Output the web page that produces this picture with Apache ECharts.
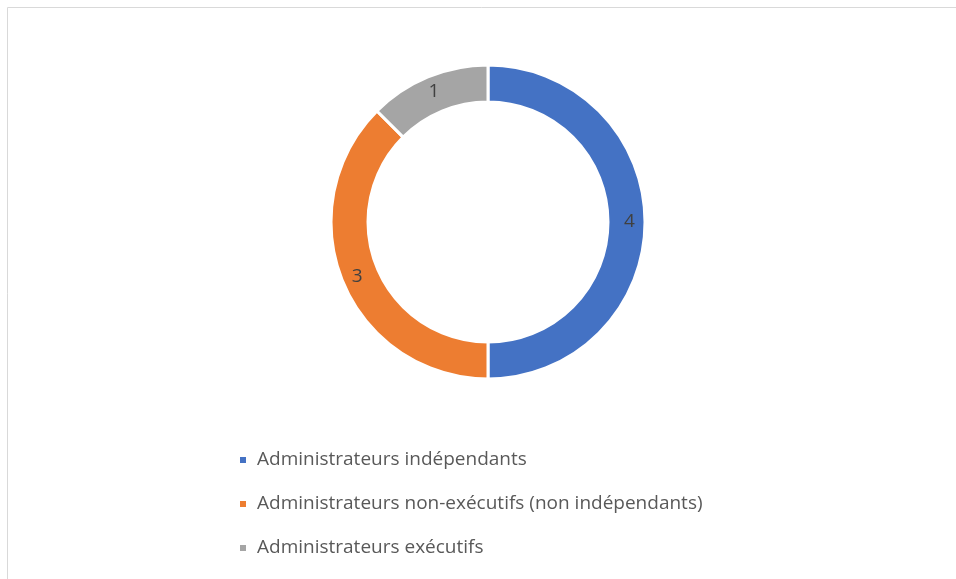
<!DOCTYPE html>
<html>
<head>
<meta charset="utf-8">
<script src="https://cdn.jsdelivr.net/npm/echarts@6/dist/echarts.min.js"></script>
<style>
html,body{margin:0;padding:0;background:#fff;}
#main{width:956px;height:579px;}
</style>
</head>
<body>
<div id="main"></div>
<script>
const categories = ['Administrateurs indépendants', 'Administrateurs non-exécutifs (non indépendants)', 'Administrateurs exécutifs'];
const values = [4, 3, 1];
const colors = ['#4472C4', '#ED7D31', '#A5A5A5'];

const chart = echarts.init(document.getElementById('main'), null, {renderer: 'canvas'});
chart.setOption({
  animation: false,
  color: colors,
  graphic: [
    {type: 'line', shape: {x1: 7.5, y1: 7.5, x2: 956, y2: 7.5}, style: {stroke: '#D9D9D9', lineWidth: 1}},
    {type: 'line', shape: {x1: 7.5, y1: 7.5, x2: 7.5, y2: 579}, style: {stroke: '#D9D9D9', lineWidth: 1}}
  ],
  legend: {
    orient: 'vertical',
    left: 238,
    top: 448,
    padding: 0,
    itemWidth: 8,
    itemHeight: 8,
    itemGap: 20,
    icon: 'rect',
    textStyle: {color: '#595959', fontSize: 19, lineHeight: 24, fontFamily: 'Open Sans', padding: [0, 0, 0, 5]},
    data: categories
  },
  series: [{
    type: 'pie',
    center: [488, 222],
    radius: [120, 157],
    startAngle: 90,
    clockwise: true,
    itemStyle: {borderColor: '#fff', borderWidth: 3},
    label: {
      show: true,
      position: 'inside',
      formatter: '{c}',
      color: '#404040',
      fontSize: 19,
      fontFamily: 'Open Sans'
    },
    labelLine: {show: false},
    emphasis: {disabled: true},
    data: categories.map((n, i) => ({name: n, value: values[i]}))
  }]
});
</script>
</body>
</html>
